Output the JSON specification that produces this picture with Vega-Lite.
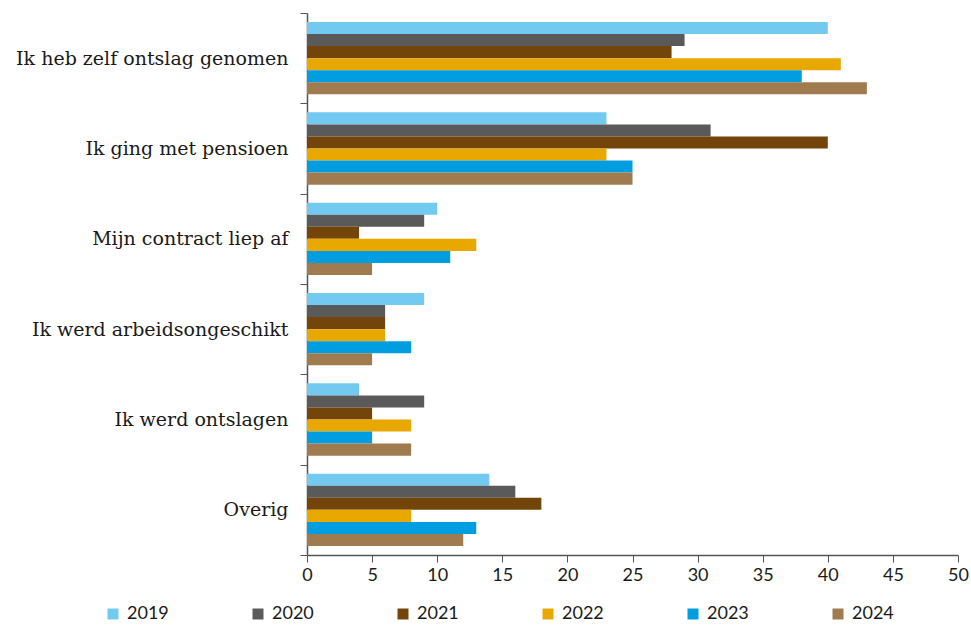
{
  "$schema": "https://vega.github.io/schema/vega-lite/v6.json",
  "width": 651,
  "height": 542,
  "autosize": {"type": "none"},
  "padding": {"left": 307, "top": 13, "right": 13, "bottom": 71},
  "background": "white",
  "data": {
    "values": [
      {"cat": "Ik heb zelf ontslag genomen", "year": "2019", "v": 40},
      {"cat": "Ik heb zelf ontslag genomen", "year": "2020", "v": 29},
      {"cat": "Ik heb zelf ontslag genomen", "year": "2021", "v": 28},
      {"cat": "Ik heb zelf ontslag genomen", "year": "2022", "v": 41},
      {"cat": "Ik heb zelf ontslag genomen", "year": "2023", "v": 38},
      {"cat": "Ik heb zelf ontslag genomen", "year": "2024", "v": 43},
      {"cat": "Ik ging met pensioen", "year": "2019", "v": 23},
      {"cat": "Ik ging met pensioen", "year": "2020", "v": 31},
      {"cat": "Ik ging met pensioen", "year": "2021", "v": 40},
      {"cat": "Ik ging met pensioen", "year": "2022", "v": 23},
      {"cat": "Ik ging met pensioen", "year": "2023", "v": 25},
      {"cat": "Ik ging met pensioen", "year": "2024", "v": 25},
      {"cat": "Mijn contract liep af", "year": "2019", "v": 10},
      {"cat": "Mijn contract liep af", "year": "2020", "v": 9},
      {"cat": "Mijn contract liep af", "year": "2021", "v": 4},
      {"cat": "Mijn contract liep af", "year": "2022", "v": 13},
      {"cat": "Mijn contract liep af", "year": "2023", "v": 11},
      {"cat": "Mijn contract liep af", "year": "2024", "v": 5},
      {"cat": "Ik werd arbeidsongeschikt", "year": "2019", "v": 9},
      {"cat": "Ik werd arbeidsongeschikt", "year": "2020", "v": 6},
      {"cat": "Ik werd arbeidsongeschikt", "year": "2021", "v": 6},
      {"cat": "Ik werd arbeidsongeschikt", "year": "2022", "v": 6},
      {"cat": "Ik werd arbeidsongeschikt", "year": "2023", "v": 8},
      {"cat": "Ik werd arbeidsongeschikt", "year": "2024", "v": 5},
      {"cat": "Ik werd ontslagen", "year": "2019", "v": 4},
      {"cat": "Ik werd ontslagen", "year": "2020", "v": 9},
      {"cat": "Ik werd ontslagen", "year": "2021", "v": 5},
      {"cat": "Ik werd ontslagen", "year": "2022", "v": 8},
      {"cat": "Ik werd ontslagen", "year": "2023", "v": 5},
      {"cat": "Ik werd ontslagen", "year": "2024", "v": 8},
      {"cat": "Overig", "year": "2019", "v": 14},
      {"cat": "Overig", "year": "2020", "v": 16},
      {"cat": "Overig", "year": "2021", "v": 18},
      {"cat": "Overig", "year": "2022", "v": 8},
      {"cat": "Overig", "year": "2023", "v": 13},
      {"cat": "Overig", "year": "2024", "v": 12}
    ]
  },
  "mark": {"type": "bar"},
  "encoding": {
    "y": {
      "field": "cat",
      "type": "nominal",
      "sort": null,
      "scale": {"paddingInner": 0, "paddingOuter": 0},
      "axis": {
        "title": null,
        "tickBand": "extent",
        "tickSize": 7,
        "tickColor": "#555555",
        "domainColor": "#555555",
        "domainWidth": 1.5,
        "labelFont": "DejaVu Serif",
        "labelFontSize": 19,
        "labelColor": "#1a1a1a",
        "labelPadding": 12,
        "labelLimit": 320
      }
    },
    "yOffset": {"field": "year", "type": "nominal", "scale": {"paddingInner": 0, "paddingOuter": 0.75}},
    "x": {
      "field": "v",
      "type": "quantitative",
      "scale": {"domain": [0, 50]},
      "axis": {
        "title": null,
        "values": [0, 5, 10, 15, 20, 25, 30, 35, 40, 45, 50],
        "grid": false,
        "tickSize": 7,
        "tickColor": "#555555",
        "domainColor": "#555555",
        "domainWidth": 1.5,
        "labelFont": "Lato",
        "labelFontSize": 18,
        "labelColor": "#1a1a1a",
        "labelPadding": 4,
        "labelFlush": false
      }
    },
    "color": {
      "field": "year",
      "type": "nominal",
      "scale": {
        "domain": ["2019", "2020", "2021", "2022", "2023", "2024"],
        "range": ["#73caf0", "#5a5a5a", "#73450a", "#e9a800", "#009ee0", "#a07b50"]
      },
      "legend": {
        "title": null,
        "orient": "none",
        "legendX": -203,
        "legendY": 592,
        "direction": "horizontal",
        "columns": 6,
        "symbolType": "square",
        "symbolSize": 121,
        "symbolStrokeWidth": 0,
        "labelFont": "Lato",
        "labelFontSize": 18,
        "labelColor": "#1a1a1a",
        "labelOffset": 5,
        "columnPadding": 80,
        "padding": 0
      }
    }
  },
  "config": {"view": {"stroke": null}}
}
